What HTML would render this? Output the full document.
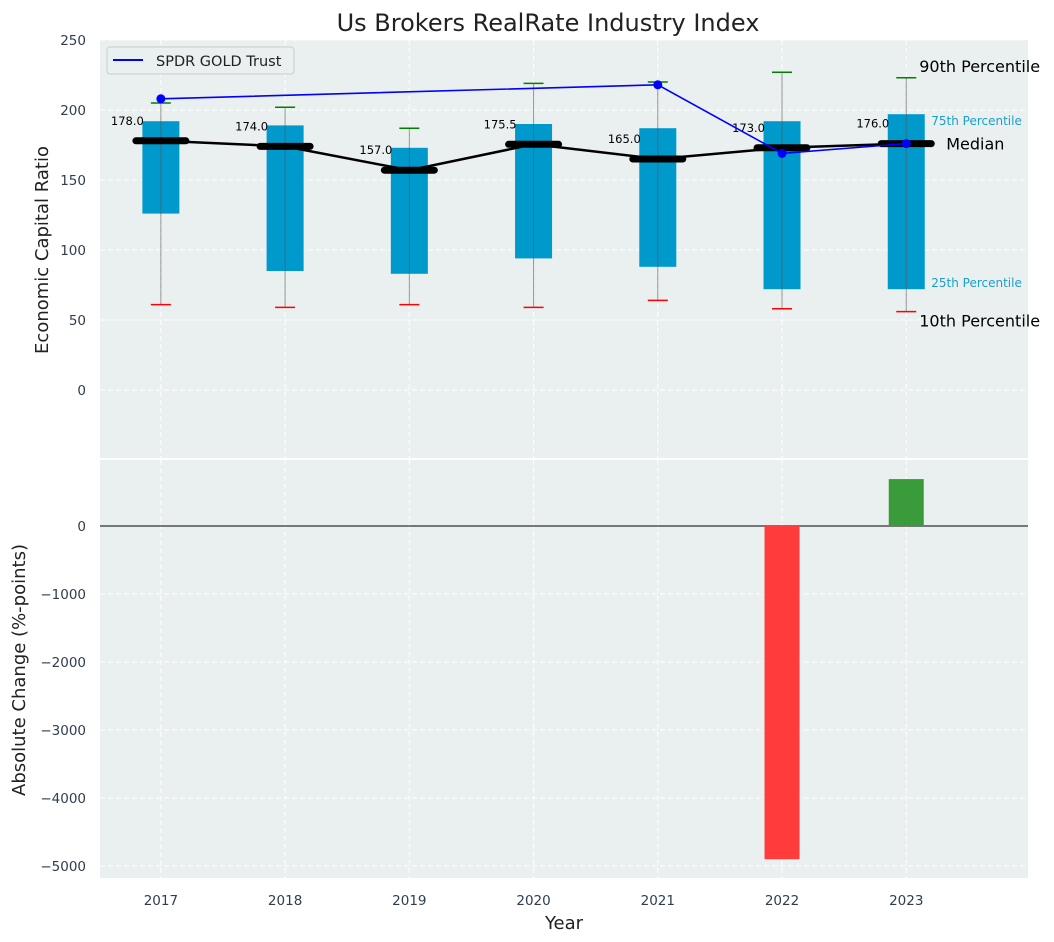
<!DOCTYPE html>
<html><head><meta charset="utf-8"><style>
body{margin:0;background:#fff;}
svg{font-family:"DejaVu Sans","Liberation Sans",sans-serif;display:block}
</style></head><body>
<svg id="c" width="1054" height="942" viewBox="0 0 1054 942" xmlns="http://www.w3.org/2000/svg"></svg>
<script>
const years=[2017,2018,2019,2020,2021,2022,2023];
const p10=[61,59,61,59,64,58,56];
const q1=[126,85,83,94,88,72,72];
const medians=[178,174,157,175.5,165,173,176];
const q3=[192,189,173,190,187,192,197];
const p90=[205,202,187,219,220,227,223];
const goldYears=[2017,2021,2022,2023];
const goldVals=[208,218,169,176];
const changeYears=[2022,2023];
const changeVals=[-4900,690];
const topTicks=[0,50,100,150,200,250];
const botTicks=[-5000,-4000,-3000,-2000,-1000,0];

const NS="http://www.w3.org/2000/svg";
const svg=document.getElementById('c');
function el(t,a,p){const e=document.createElementNS(NS,t);for(const k in a)e.setAttribute(k,a[k]);(p||svg).appendChild(e);return e;}
const X0=100,X1=1028,xmin=2016.51,xmax=2023.98;
const x=v=>X0+(v-xmin)/(xmax-xmin)*(X1-X0);
const T0=40,T1=458,ty=v=>390-v*1.4;
const B0=460,B1=878,by=v=>526-v*0.068;

let r=el('rect',{x:X0,y:T0,width:X1-X0,height:T1-T0,fill:'#eaeff0'});

r=el('rect',{x:X0,y:B0,width:X1-X0,height:B1-B0,fill:'#eaeff0'});


years.forEach(yr=>{
  el('line',{x1:x(yr),x2:x(yr),y1:T0,y2:T1,stroke:'#fff','stroke-dasharray':'5,3','stroke-width':1});
  el('line',{x1:x(yr),x2:x(yr),y1:B0,y2:B1,stroke:'#fff','stroke-dasharray':'5,3','stroke-width':1});
  const t=el('text',{x:x(yr),y:905,'text-anchor':'middle','font-size':13.5,fill:'#2f3e4f'});t.textContent=yr;
  
});
topTicks.forEach(v=>{
  el('line',{x1:X0,x2:X1,y1:ty(v),y2:ty(v),stroke:'#fff','stroke-dasharray':'5,3'});
  const t=el('text',{x:86,y:ty(v)+5,'text-anchor':'end','font-size':13.5,fill:'#2f3e4f'});t.textContent=v;
  
});
botTicks.forEach(v=>{
  el('line',{x1:X0,x2:X1,y1:by(v),y2:by(v),stroke:'#fff','stroke-dasharray':'5,3'});
  const t=el('text',{x:86,y:by(v)+5,'text-anchor':'end','font-size':13.5,fill:'#2f3e4f'});t.textContent=v<0?'\u2212'+(-v):v;
  
});

years.forEach((yr,i)=>{
  const cx=x(yr),w=37;
  const b=el('rect',{x:cx-w/2,y:ty(q3[i]),width:w,height:ty(q1[i])-ty(q3[i]),fill:'#0099cc'});
  
  el('line',{x1:cx,x2:cx,y1:ty(p90[i]),y2:ty(p10[i]),stroke:'#555','stroke-opacity':0.6,'stroke-width':1});
  const c1=el('line',{x1:cx-10,x2:cx+10,y1:ty(p90[i]),y2:ty(p90[i]),stroke:'green','stroke-width':1.5});
  
  const c2=el('line',{x1:cx-10,x2:cx+10,y1:ty(p10[i]),y2:ty(p10[i]),stroke:'red','stroke-width':1.5});
  
});
el('polyline',{points:years.map((yr,i)=>x(yr)+','+ty(medians[i])).join(' '),fill:'none',stroke:'#000','stroke-width':2.5});
years.forEach((yr,i)=>{
  const m=el('line',{x1:x(yr)-25,x2:x(yr)+25,y1:ty(medians[i]),y2:ty(medians[i]),stroke:'#000','stroke-width':7,'stroke-linecap':'round'});
  
  const t=el('text',{x:x(yr)-17,y:ty(medians[i])-16,'text-anchor':'end','font-size':11.5,fill:'#000'});t.textContent=medians[i].toFixed(1);
  
});
const gl=el('polyline',{points:goldYears.map((yr,i)=>x(yr)+','+ty(goldVals[i])).join(' '),fill:'none',stroke:'#0000ff','stroke-width':1.6});

goldYears.forEach((yr,i)=>{const c=el('circle',{cx:x(yr),cy:ty(goldVals[i]),r:4.5,fill:'#0000ff'});
  });

const L=years.length-1,ax=x(years[L]);
[['90th Percentile',ax+13,ty(p90[L])-6,16,'#000'],['75th Percentile',ax+25,ty(q3[L])+11,12,'#1aa0cc'],['Median',ax+40,ty(medians[L])+6,16,'#000'],['25th Percentile',ax+25,ty(q1[L])-2,12,'#1aa0cc'],['10th Percentile',ax+13,ty(p10[L])+15,16,'#000']].forEach(a=>{
  const t=el('text',{x:a[1],y:a[2],'font-size':a[3],fill:a[4]});t.textContent=a[0];
  
});

const lg=el('g',{});
el('rect',{x:107,y:47,width:187,height:27,rx:3,fill:'#eaeff0',stroke:'#ccc'},lg);
el('line',{x1:113,x2:143,y1:60,y2:60,stroke:'#0000ff','stroke-width':2},lg);
const lt=el('text',{x:156,y:66,'font-size':14.5,fill:'#222'},lg);lt.textContent='SPDR GOLD Trust';

el('line',{x1:X0,x2:X1,y1:by(0),y2:by(0),stroke:'#000','stroke-width':1});
changeYears.forEach((yr,i)=>{
  const v=changeVals[i];
  const b=el('rect',{x:x(yr)-17.5,y:Math.min(by(v),by(0)),width:35,height:Math.abs(by(v)-by(0)),fill:v<0?'#ff3b3b':'#3a9b3a'});
  
});

let t=el('text',{x:548,y:31,'text-anchor':'middle','font-size':24,fill:'#222'});t.textContent='Us Brokers RealRate Industry Index';

t=el('text',{x:564,y:929,'text-anchor':'middle','font-size':18,fill:'#222'});t.textContent='Year';

t=el('text',{x:48,y:250,'text-anchor':'middle','font-size':18,fill:'#222',transform:'rotate(-90 48 250)'});t.textContent='Economic Capital Ratio';

t=el('text',{x:25,y:670,'text-anchor':'middle','font-size':18,fill:'#222',transform:'rotate(-90 25 670)'});t.textContent='Absolute Change (%-points)';

</script>
</body></html>
